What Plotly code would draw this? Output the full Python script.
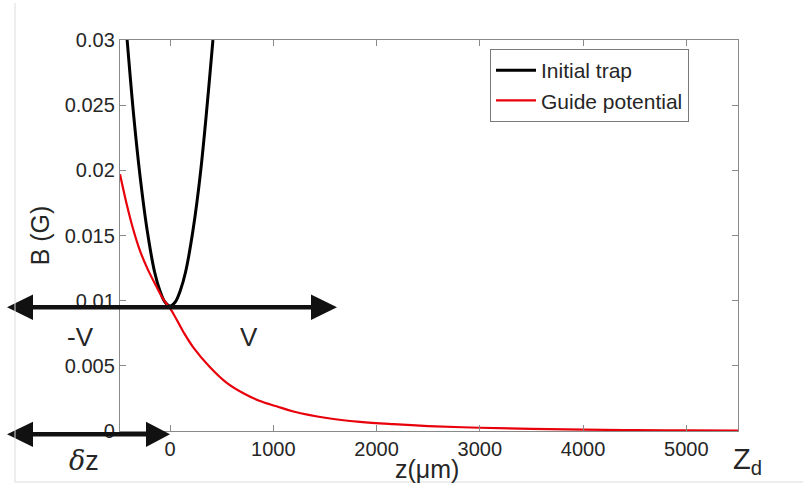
import plotly.graph_objects as go

# ---- data ----
trap_z = [-420, -350, -290, -220, -150, -100, -50, 0, 50, 100, 150, 220, 297, 415]
trap_B = [0.0304, 0.0240, 0.0195, 0.0153, 0.0122, 0.0108, 0.0099, 0.0096,
          0.0099, 0.0108, 0.0122, 0.0153, 0.0200, 0.0300]

guide_z = [-485, -420, -358, -290, -216, -140, -65, 0, 32, 129, 226, 387, 549,
           710, 871, 1030, 1194, 1517, 1839, 2162, 2500, 3000, 3500, 4000,
           4500, 5000, 5500]
guide_B = [0.0197, 0.0174, 0.0155, 0.0138, 0.0124, 0.0112, 0.0101, 0.0094,
           0.0090, 0.0076, 0.0064, 0.0049, 0.0037, 0.0029, 0.0023, 0.0019,
           0.0015, 0.00100, 0.00070, 0.00052, 0.00038, 0.00025, 0.00016,
           0.00010, 0.00007, 0.00005, 0.00003]

x_ticks = [0, 1000, 2000, 3000, 4000, 5000]
x_tick_labels = ["0", "1000", "2000", "3000", "4000", "5000"]
y_ticks = [0, 0.005, 0.01, 0.015, 0.02, 0.025, 0.03]
y_tick_labels = ["0", "0.005", "0.01", "0.015", "0.02", "0.025", "0.03"]

series_names = ["Initial trap", "Guide potential"]
x_title = "z(μm)"
y_title = "B (G)"

# ---- layout geometry (pixels) ----
W, H = 803, 497
ML, MR, MT, MB = 120, 65, 40, 66
PW, PH = W - ML - MR, H - MT - MB


def px(x):
    return (x - ML) / PW


def py(y):
    return (H - MB - y) / PH


FONT = "Liberation Sans, Arial, sans-serif"
AXC = "#8a8a8a"
TXT = "#262626"

fig = go.Figure()
fig.add_trace(go.Scatter(x=trap_z, y=trap_B, mode="lines", name=series_names[0],
                         line=dict(color="#000000", width=3, shape="spline")))
fig.add_trace(go.Scatter(x=guide_z, y=guide_B, mode="lines", name=series_names[1],
                         line=dict(color="#e8000b", width=2.2, shape="spline")))

axis_common = dict(showgrid=False, zeroline=False, showline=True, linecolor=AXC,
                   linewidth=1.4, mirror="ticks", ticks="inside", ticklen=6,
                   tickcolor=AXC, tickwidth=1.2,
                   tickfont=dict(family=FONT, size=20, color=TXT))

fig.update_xaxes(range=[-485, 5500], tickvals=x_ticks, ticktext=x_tick_labels,
                 ticklabelstandoff=0, **axis_common)
fig.update_yaxes(range=[0, 0.03], tickvals=y_ticks, ticktext=y_tick_labels,
                 title=dict(text=y_title, font=dict(family=FONT, size=25, color=TXT),
                            standoff=7),
                 **axis_common)


def tri(tip, bx, half, y):
    return (f"M {px(tip)},{py(y)} L {px(bx)},{py(y - half)} "
            f"L {px(bx)},{py(y + half)} Z")


shapes = []
AR = "#111111"
# top arrow (-V / V)
ya = 307.3
shapes.append(dict(type="line", xref="paper", yref="paper", x0=px(28), x1=px(316),
                   y0=py(ya), y1=py(ya), line=dict(color=AR, width=4.5)))
shapes.append(dict(type="path", xref="paper", yref="paper", path=tri(7, 33, 12.8, ya),
                   fillcolor=AR, line=dict(width=0)))
shapes.append(dict(type="path", xref="paper", yref="paper", path=tri(337, 311, 12.8, ya),
                   fillcolor=AR, line=dict(width=0)))
# bottom arrow (delta z)
yb = 434.3
shapes.append(dict(type="line", xref="paper", yref="paper", x0=px(28), x1=px(150),
                   y0=py(yb), y1=py(yb), line=dict(color=AR, width=4.5)))
shapes.append(dict(type="path", xref="paper", yref="paper", path=tri(7, 33, 12.6, yb),
                   fillcolor=AR, line=dict(width=0)))
shapes.append(dict(type="path", xref="paper", yref="paper", path=tri(170, 146, 12.6, yb),
                   fillcolor=AR, line=dict(width=0)))
# light frame of the picture (left and bottom)
shapes.append(dict(type="line", xref="paper", yref="paper", x0=px(15), x1=px(15),
                   y0=py(3), y1=py(482), line=dict(color="#dcdcdc", width=1)))
shapes.append(dict(type="line", xref="paper", yref="paper", x0=px(15), x1=px(803),
                   y0=py(482), y1=py(482), line=dict(color="#dcdcdc", width=1)))

annotations = [
    dict(text=x_title, x=px(427), y=py(469), font=dict(family=FONT, size=25, color=TXT)),
    dict(text="-V", x=px(80), y=py(337), font=dict(family=FONT, size=26, color=TXT)),
    dict(text="V", x=px(249), y=py(337), font=dict(family=FONT, size=26, color=TXT)),
    dict(text="<span style='font-family:DejaVu Serif;font-style:italic'>δ</span>z",
         x=px(84), y=py(460), font=dict(family=FONT, size=27, color=TXT)),
    dict(text="Z<sub>d</sub>", x=px(747), y=py(461), font=dict(family=FONT, size=29, color=TXT)),
]
for a in annotations:
    a.update(xref="paper", yref="paper", showarrow=False, xanchor="center", yanchor="middle")

fig.update_layout(
    width=W, height=H,
    margin=dict(l=ML, r=MR, t=MT, b=MB, autoexpand=False),
    paper_bgcolor="white", plot_bgcolor="white",
    shapes=shapes, annotations=annotations,
    legend=dict(x=px(490), y=py(49), xanchor="left", yanchor="top",
                bordercolor="#7a7a7a", borderwidth=1, bgcolor="white",
                font=dict(family=FONT, size=21, color=TXT),
                itemwidth=40, tracegroupgap=0),
)

fig.write_html("out.html", config={"displayModeBar": False},
               post_script="document.body.style.margin='0px';")
